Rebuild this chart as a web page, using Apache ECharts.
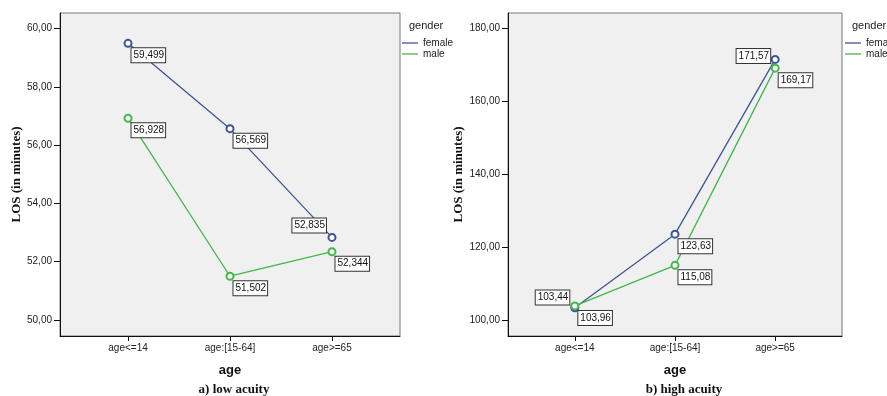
<!DOCTYPE html>
<html>
<head>
<meta charset="utf-8">
<script src="https://cdn.jsdelivr.net/npm/echarts@6/dist/echarts.min.js"></script>
<style>
html,body{margin:0;padding:0;background:#fff;}
#chart{width:887px;height:396px;}
</style>
</head>
<body>
<div id="chart"></div>
<script>
// ---- data ----
const categories = ['age<=14', 'age:[15-64]', 'age>=65'];
const lowFemale = [59.499, 56.569, 52.835];
const lowMale = [56.928, 51.502, 52.344];
const highFemale = [103.44, 123.63, 171.57];
const highMale = [103.96, 115.08, 169.17];
const lowTicks = [50, 52, 54, 56, 58, 60];
const highTicks = [100, 120, 140, 160, 180];
const seriesNames = ['female', 'male'];

// ---- styles ----
const BLUE = '#3d5597';
const GREEN = '#40b84b';
const labelPlacement = {
  br:  { align: 'left', verticalAlign: 'top', position: [8, 9.5] },
  tl:  { align: 'right', verticalAlign: 'bottom', position: [-1.5, -0.5] },
  tl2: { align: 'right', verticalAlign: 'bottom', position: [-1, 1.2] },
  l:   { align: 'right', verticalAlign: 'middle', position: [-0.5, 1] }
};
const lowFemalePos = ['br', 'br', 'tl'];
const lowMalePos = ['br', 'br', 'br'];
const highFemalePos = ['tl2', 'br', 'l'];
const highMalePos = ['br', 'br', 'br'];

function fmt(v, d) { return v.toFixed(d).replace('.', ','); }

function makeData(vals, pos, dec) {
  return vals.map((v, i) => ({
    value: [i, v],
    label: Object.assign({ formatter: fmt(v, dec) }, labelPlacement[pos[i]])
  }));
}

const baseLabel = {
  show: true,
  fontFamily: 'Liberation Sans, Arial, sans-serif',
  fontSize: 10,
  color: '#111',
  backgroundColor: '#fff',
  borderColor: '#333',
  borderWidth: 1,
  padding: [2, 1, 2, 2]
};

function makeSeries(name, color, vals, pos, dec, idx) {
  return {
    name: name,
    type: 'line',
    xAxisIndex: idx,
    yAxisIndex: idx,
    symbol: 'emptyCircle',
    symbolSize: 7,
    lineStyle: { color: color, width: 1.3 },
    itemStyle: { color: color, borderWidth: 1 },
    label: baseLabel,
    data: makeData(vals, pos, dec),
    z: 3
  };
}

const tickFont = { fontFamily: 'Liberation Sans, Arial, sans-serif', fontSize: 10, color: '#222' };

function xAxisCfg(idx) {
  return {
    type: 'value', gridIndex: idx,
    min: -0.667, max: 2.667,
    name: 'age', nameLocation: 'middle', nameGap: 28,
    nameTextStyle: { fontFamily: 'Liberation Sans, Arial, sans-serif', fontWeight: 'bold', fontSize: 13, color: '#111' },
    axisLine: { show: true, onZero: false, lineStyle: { color: '#111', width: 1 } },
    axisTick: { show: true, inside: false, length: 5, lineStyle: { color: '#111' }, customValues: [0, 1, 2] },
    axisLabel: Object.assign({ customValues: [0, 1, 2], margin: 7, formatter: v => categories[Math.round(v)] }, tickFont),
    splitLine: { show: false }
  };
}

function yAxisCfg(idx, min, max, ticks) {
  return {
    type: 'value', gridIndex: idx,
    min: min, max: max,
    name: 'LOS (in minutes)', nameLocation: 'middle', nameGap: 36,
    nameTextStyle: { fontFamily: 'Liberation Serif, Times New Roman, serif', fontWeight: 'bold', fontSize: 13, color: '#111' },
    axisLine: { show: true, onZero: false, lineStyle: { color: '#111', width: 1 } },
    axisTick: { show: true, inside: false, length: 6, lineStyle: { color: '#111' }, customValues: ticks },
    axisLabel: Object.assign({ customValues: ticks, margin: 8, formatter: v => fmt(v, 2) }, tickFont),
    splitLine: { show: false }
  };
}

function legendCfg(left) {
  return {
    data: seriesNames,
    orient: 'vertical',
    left: left, top: 38,
    padding: 0,
    icon: 'rect',
    itemWidth: 16, itemHeight: 1.3,
    itemGap: 1,
    selectedMode: false,
    textStyle: { fontFamily: 'Liberation Sans, Arial, sans-serif', fontSize: 10, color: '#222' }
  };
}

const titleFont = { fontFamily: 'Liberation Sans, Arial, sans-serif', fontSize: 11, fontWeight: 'normal', color: '#222' };
const captionFont = { fontFamily: 'Liberation Serif, Times New Roman, serif', fontSize: 13, fontWeight: 'bold', color: '#111' };

const chart = echarts.init(document.getElementById('chart'), null, { renderer: 'canvas' });
chart.setOption({
  animation: false,
  backgroundColor: '#fff',
  color: [BLUE, GREEN],
  grid: [
    { left: 60, top: 13, width: 340, height: 323, show: true, backgroundColor: '#f0f0f0', borderColor: '#777', borderWidth: 1 },
    { left: 508, top: 13, width: 334, height: 323, show: true, backgroundColor: '#f0f0f0', borderColor: '#777', borderWidth: 1 }
  ],
  xAxis: [xAxisCfg(0), xAxisCfg(1)],
  yAxis: [yAxisCfg(0, 49.45, 60.54, lowTicks), yAxisCfg(1, 95.7, 184.3, highTicks)],
  legend: [legendCfg(402), legendCfg(845)],
  title: [
    { text: 'gender', left: 409, top: 20, padding: 0, textStyle: titleFont },
    { text: 'gender', left: 852, top: 20, padding: 0, textStyle: titleFont },
    { text: 'a) low acuity', left: 234, top: 383, textAlign: 'center', padding: 0, textStyle: captionFont },
    { text: 'b) high acuity', left: 684, top: 383, textAlign: 'center', padding: 0, textStyle: captionFont }
  ],
  series: [
    makeSeries('female', BLUE, lowFemale, lowFemalePos, 3, 0),
    makeSeries('male', GREEN, lowMale, lowMalePos, 3, 0),
    makeSeries('female', BLUE, highFemale, highFemalePos, 2, 1),
    makeSeries('male', GREEN, highMale, highMalePos, 2, 1)
  ]
});
</script>
</body>
</html>
